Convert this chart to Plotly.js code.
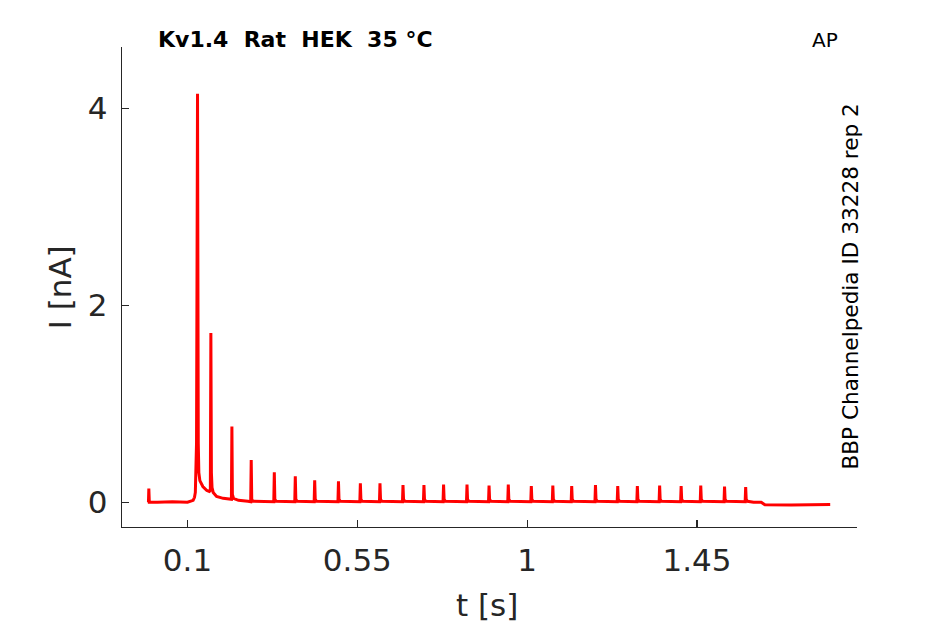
<!DOCTYPE html>
<html>
<head>
<meta charset="utf-8">
<script src="https://cdn.plot.ly/plotly-3.0.1.min.js"></script>
<style>html,body{margin:0;padding:0;background:#fff;}#chart{width:945px;height:624px;}</style>
</head>
<body>
<div id="chart"></div>
<script>
// Early part of the trace (first stimulus artefact + two large spikes)
const earlyT = [-0.005, -0.0035, -0.0025, -0.0012, 0.02, 0.06, 0.10, 0.112, 0.1149, 0.1185, 0.1207, 0.1239, 0.1265, 0.1285, 0.1300, 0.1327, 0.1406, 0.1512, 0.1579, 0.1605, 0.1619, 0.1633, 0.1650, 0.168, 0.177, 0.1945, 0.212, 0.2163, 0.2176, 0.2189, 0.222, 0.235, 0.26];
const earlyI = [0.0, 0.0, 0.14, 0.0, 0.0, 0.005, 0.0, 0.01, 0.02, 0.05, 0.10, 0.60, 4.15, 0.60, 0.30, 0.22, 0.16, 0.12, 0.11, 0.12, 1.72, 0.30, 0.15, 0.10, 0.06, 0.04, 0.03, 0.03, 0.77, 0.08, 0.04, 0.02, 0.01];
// Train of smaller spikes
const spikeT = [0.2688, 0.330, 0.3856, 0.437, 0.500, 0.558, 0.610, 0.671, 0.7265, 0.7785, 0.8406, 0.899, 0.950, 1.011, 1.068, 1.118, 1.181, 1.240, 1.292, 1.351, 1.408, 1.460, 1.523, 1.579];
const spikePeak = [0.43, 0.305, 0.265, 0.224, 0.214, 0.193, 0.193, 0.176, 0.176, 0.18, 0.18, 0.17, 0.18, 0.165, 0.17, 0.165, 0.175, 0.165, 0.165, 0.17, 0.165, 0.17, 0.16, 0.155];
// End of the trace (small step down, then flat)
const tailT = [1.600, 1.620, 1.630, 1.700, 1.760, 1.803];
const tailI = [0.0, 0.0, -0.025, -0.027, -0.024, -0.022];

const xTicks = [0.1, 0.55, 1, 1.45];
const xTickText = ['0.1', '0.55', '1', '1.45'];
const yTicks = [0, 2, 4];
const yTickText = ['0', '2', '4'];

const titleText = 'Kv1.4  Rat  HEK  35 °C';
const protocolText = 'AP';
const sideText = 'BBP Channelpedia ID 33228 rep 2';

// assemble trace points from the arrays
const t = earlyT.slice();
const cur = earlyI.slice();
spikeT.forEach((s, k) => {
  t.push(s - 0.0014, s, s + 0.0014, s + 0.005);
  cur.push(0.005, spikePeak[k], 0.03, 0.01);
});
tailT.forEach((s, k) => { t.push(s); cur.push(tailI[k]); });

const axisColor = '#262626';
const data = [{
  x: t, y: cur, type: 'scatter', mode: 'lines',
  line: {color: '#ff0000', width: 3}, hoverinfo: 'skip'
}];

const layout = {
  width: 945, height: 624,
  margin: {l: 122.3, r: 88.3, t: 47, b: 97.3, pad: 0},
  paper_bgcolor: '#ffffff', plot_bgcolor: '#ffffff',
  showlegend: false,
  font: {family: 'DejaVu Sans', color: axisColor},
  xaxis: {
    range: [-0.0736, 1.874], showgrid: false, zeroline: false,
    showline: true, linecolor: axisColor, linewidth: 1.2,
    ticks: 'inside', ticklen: 7, tickwidth: 1.2, tickcolor: axisColor,
    tickmode: 'array', tickvals: xTicks, ticktext: xTickText,
    tickfont: {family: 'DejaVu Sans', size: 31, color: axisColor},
    ticklabelstandoff: 6
  },
  yaxis: {
    range: [-0.251, 4.624], showgrid: false, zeroline: false,
    showline: true, linecolor: axisColor, linewidth: 1.2,
    ticks: 'inside', ticklen: 7, tickwidth: 1.2, tickcolor: axisColor,
    tickmode: 'array', tickvals: yTicks, ticktext: yTickText,
    tickfont: {family: 'DejaVu Sans', size: 31, color: axisColor},
    ticklabelstandoff: 7
  },
  annotations: [
    {text: titleText, xref: 'paper', yref: 'paper', x: 0.0463, y: 1.0156,
     xanchor: 'left', yanchor: 'middle', showarrow: false,
     font: {family: 'DejaVu Sans', size: 22, color: '#000000', weight: 'bold'}},
    {text: protocolText, xref: 'paper', yref: 'paper', x: 0.956, y: 1.0152,
     xanchor: 'center', yanchor: 'middle', showarrow: false,
     font: {family: 'DejaVu Sans', size: 20, color: '#000000'}},
    {text: sideText, xref: 'paper', yref: 'paper', x: 0.991, y: 0.5018,
     xanchor: 'center', yanchor: 'middle', showarrow: false, textangle: -90,
     font: {family: 'DejaVu Sans', size: 21.6, color: '#000000'}},
    {text: 't [s]', xref: 'paper', yref: 'paper', x: 0.4966, y: -0.163,
     xanchor: 'center', yanchor: 'middle', showarrow: false,
     font: {family: 'DejaVu Sans', size: 31, color: axisColor}},
    {text: 'I [nA]', xref: 'paper', yref: 'paper', x: -0.0848, y: 0.4986,
     xanchor: 'center', yanchor: 'middle', showarrow: false, textangle: -90,
     font: {family: 'DejaVu Sans', size: 31, color: axisColor}}
  ]
};

Plotly.newPlot('chart', data, layout, {staticPlot: true, displayModeBar: false});
</script>
</body>
</html>
